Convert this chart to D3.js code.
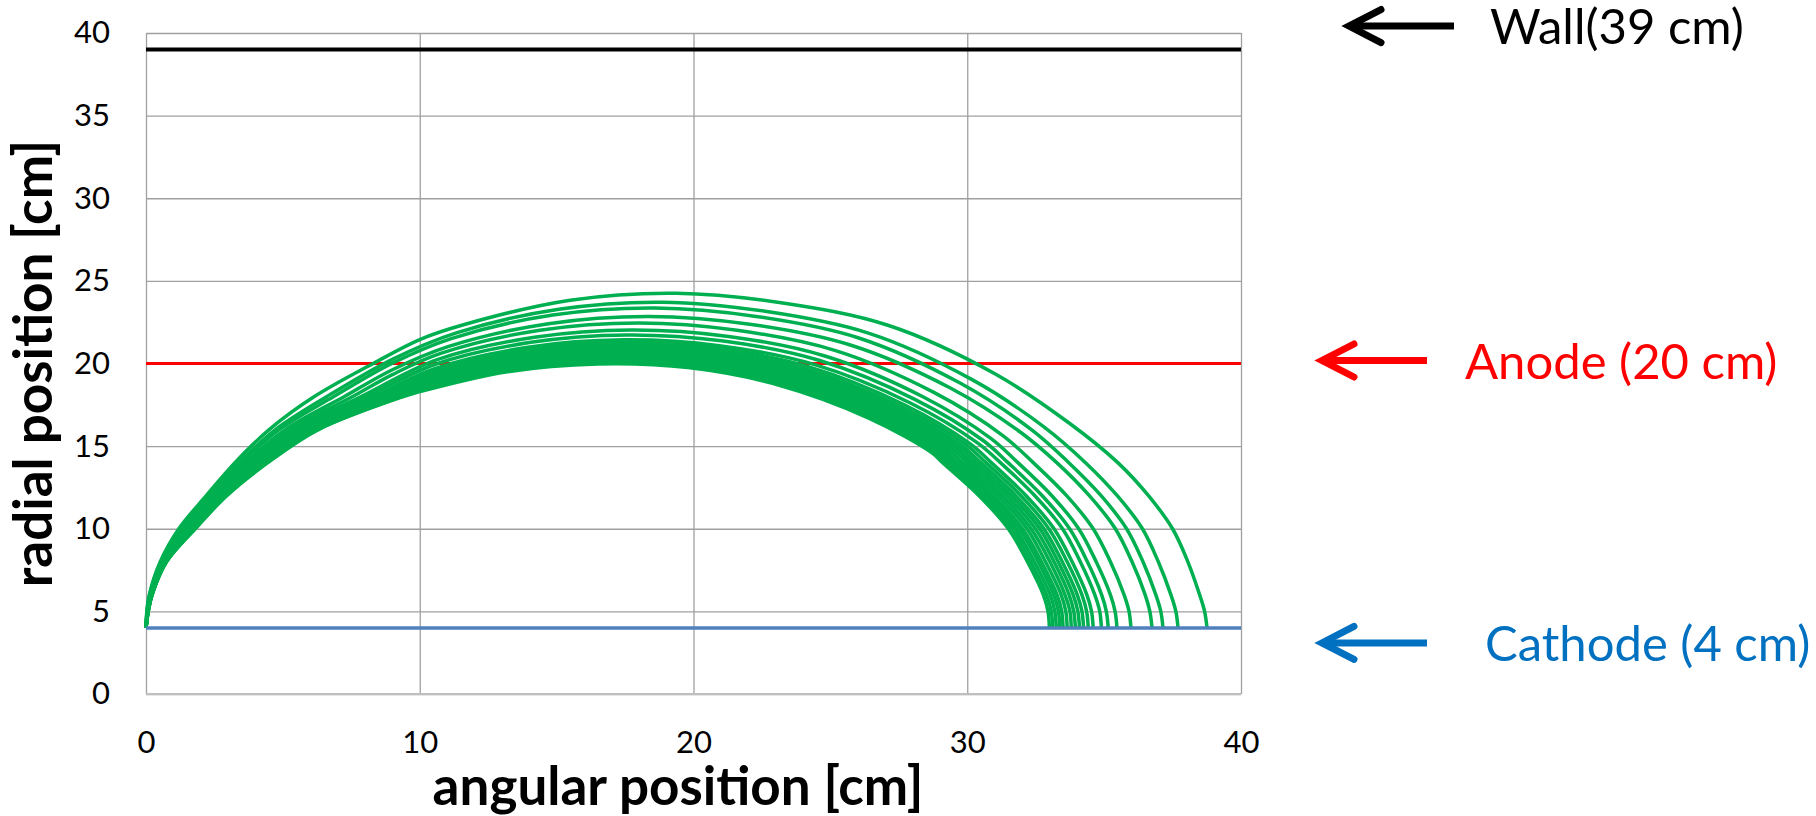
<!DOCTYPE html>
<html lang="en">
  <head>
    <meta charset="utf-8">
    <title>Electron trajectories</title>
    <script src="https://cdnjs.cloudflare.com/ajax/libs/d3/7.8.5/d3.min.js"></script>
    <style>
      body { margin: 0; background: #fff; }
      svg { display: block; font-family: Lato, "Open Sans", sans-serif; }
      .tick text { font-family: Lato, "Open Sans", sans-serif; font-size: 31px; fill: #000; }
      .grid line { stroke: #a0a0a0; stroke-width: 1.3; }
      .grid path { display: none; }
      .title { font-size: 53px; font-weight: bold; fill: #000; }
      .note { font-size: 49px; }
      .traj { fill: none; stroke: #00b050; stroke-width: 3.5; }
    </style>
  </head>
  <body>
    <svg width="1816" height="816"></svg>
    <script>
    // axis ticks
    var xTicks = [0, 10, 20, 30, 40];
    var yTicks = [0, 5, 10, 15, 20, 25, 30, 35, 40];

    // electrode positions [cm] and their labels
    var refValues = [39, 20, 4];
    var refLabels = ["Wall(39 cm)", "Anode (20 cm)", "Cathode (4 cm)"];

    // trajectories, [angular, radial] in cm
    var trajectories = [
      [[0,4],[0.08,5],[0.22,6],[0.75,8],[1.8,10],[2.95,12],[4.45,14],[6.3,16],[9.4,18],[9.9,18.25],[13.2,19.5],[16.5,19.97],[19.8,19.75],[23.1,18.7],[26.4,16.7],[28.71,14.6],[29.1,14],[30.43,12],[31.5,10],[32.2,8],[32.78,6],[32.95,5],[33.0,4]],
      [[0,4],[0.08,5],[0.22,6],[0.74,8],[1.79,10],[2.93,12],[4.42,14],[6.26,16],[9.33,18],[9.94,18.34],[13.25,19.6],[16.56,20.07],[19.87,19.84],[23.18,18.78],[26.5,16.76],[28.81,14.64],[29.23,14],[30.56,12],[31.63,10],[32.32,8],[32.9,6],[33.07,5],[33.12,4]],
      [[0,4],[0.08,5],[0.22,6],[0.74,8],[1.77,10],[2.92,12],[4.39,14],[6.22,16],[9.25,18],[9.98,18.44],[13.3,19.7],[16.63,20.17],[19.95,19.93],[23.28,18.87],[26.6,16.83],[28.93,14.69],[29.38,14],[30.7,12],[31.76,10],[32.45,8],[33.03,6],[33.2,5],[33.25,4]],
      [[0,4],[0.08,5],[0.21,6],[0.73,8],[1.76,10],[2.9,12],[4.36,14],[6.17,16],[9.17,18],[10.01,18.55],[13.35,19.81],[16.69,20.28],[20.03,20.03],[23.37,18.96],[26.7,16.89],[29.04,14.73],[29.52,14],[30.84,12],[31.9,10],[32.59,8],[33.16,6],[33.33,5],[33.38,4]],
      [[0,4],[0.08,5],[0.21,6],[0.73,8],[1.74,10],[2.88,12],[4.33,14],[6.13,16],[9.09,18],[10.05,18.65],[13.4,19.92],[16.75,20.38],[20.1,20.13],[23.45,19.05],[26.8,16.96],[29.15,14.77],[29.66,14],[30.97,12],[32.02,10],[32.71,8],[33.28,6],[33.45,5],[33.5,4]],
      [[0,4],[0.07,5],[0.21,6],[0.72,8],[1.73,10],[2.86,12],[4.3,14],[6.08,16],[9.0,18],[10.1,18.76],[13.46,20.04],[16.83,20.5],[20.19,20.24],[23.56,19.15],[26.92,17.03],[29.28,14.82],[29.82,14],[31.13,12],[32.18,10],[32.86,8],[33.43,6],[33.6,5],[33.65,4]],
      [[0,4],[0.07,5],[0.2,6],[0.71,8],[1.71,10],[2.84,12],[4.27,14],[6.02,16],[8.91,18],[10.14,18.88],[13.52,20.16],[16.9,20.63],[20.28,20.35],[23.66,19.25],[27.04,17.11],[29.41,14.88],[29.99,14],[31.29,12],[32.33,10],[33.02,8],[33.57,6],[33.75,5],[33.8,4]],
      [[0,4],[0.07,5],[0.2,6],[0.71,8],[1.69,10],[2.82,12],[4.23,14],[5.98,16],[8.82,18],[10.19,18.99],[13.58,20.28],[16.98,20.74],[20.37,20.45],[23.77,19.35],[27.16,17.18],[29.54,14.92],[30.16,14],[31.45,12],[32.49,10],[33.17,8],[33.72,6],[33.89,5],[33.95,4]],
      [[0,4],[0.07,5],[0.2,6],[0.7,8],[1.67,10],[2.79,12],[4.2,14],[5.92,16],[8.73,18],[10.23,19.11],[13.64,20.41],[17.05,20.87],[20.46,20.57],[23.87,19.46],[27.28,17.26],[29.67,14.98],[30.32,14],[31.61,12],[32.65,10],[33.32,8],[33.87,6],[34.04,5],[34.1,4]],
      [[0,4],[0.07,5],[0.2,6],[0.7,8],[1.66,10],[2.77,12],[4.16,14],[5.87,16],[8.63,18],[10.28,19.24],[13.7,20.54],[17.13,21.0],[20.55,20.69],[23.98,19.56],[27.4,17.34],[29.8,15.03],[30.49,14],[31.77,12],[32.8,10],[33.47,8],[34.02,6],[34.19,5],[34.25,4]],
      [[0,4],[0.07,5],[0.19,6],[0.69,8],[1.64,10],[2.75,12],[4.13,14],[5.81,16],[8.54,18],[10.33,19.36],[13.77,20.67],[17.21,21.13],[20.65,20.81],[24.09,19.67],[27.54,17.42],[29.95,15.09],[30.68,14],[31.96,12],[32.98,10],[33.65,8],[34.19,6],[34.36,5],[34.42,4]],
      [[0,4],[0.06,5],[0.19,6],[0.68,8],[1.62,10],[2.72,12],[4.08,14],[5.75,16],[8.42,18],[10.38,19.51],[13.84,20.83],[17.3,21.28],[20.76,20.95],[24.22,19.8],[27.68,17.52],[30.1,15.15],[30.88,14],[32.15,12],[33.17,10],[33.83,8],[34.37,6],[34.54,5],[34.6,4]],
      [[0,4],[0.06,5],[0.19,6],[0.67,8],[1.6,10],[2.69,12],[4.04,14],[5.69,16],[8.31,18],[10.47,19.65],[13.96,20.98],[17.45,21.43],[20.94,21.08],[24.43,19.93],[27.92,17.61],[30.36,15.21],[31.21,14],[32.47,12],[33.48,10],[34.13,8],[34.66,6],[34.84,5],[34.9,4]],
      [[0,4],[0.06,5],[0.18,6],[0.66,8],[1.55,10],[2.64,12],[3.96,14],[5.56,16],[8.08,18],[10.55,19.94],[14.06,21.28],[17.58,21.73],[21.09,21.36],[24.61,20.18],[28.12,17.8],[30.58,15.34],[31.49,14],[32.74,12],[33.74,10],[34.39,8],[34.91,6],[35.08,5],[35.15,4]],
      [[0,4],[0.06,5],[0.17,6],[0.64,8],[1.51,10],[2.59,12],[3.87,14],[5.43,16],[7.86,18],[10.64,20.23],[14.19,21.59],[17.74,22.03],[21.28,21.64],[24.83,20.44],[28.38,17.99],[30.86,15.47],[31.85,14],[33.09,12],[34.07,10],[34.71,8],[35.23,6],[35.4,5],[35.47,4]],
      [[0,4],[0.05,5],[0.16,6],[0.62,8],[1.45,10],[2.52,12],[3.76,14],[5.26,16],[7.55,18],[9.0,19.33],[10.79,20.63],[14.39,22.01],[17.99,22.45],[21.59,22.01],[25.19,20.78],[28.78,18.25],[31.3,15.64],[32.41,14],[33.63,12],[34.6,10],[35.23,8],[35.73,6],[35.91,5],[35.98,4]],
      [[0,4],[0.05,5],[0.15,6],[0.6,8],[1.4,10],[2.45,12],[3.64,14],[5.09,16],[7.25,18],[9.0,19.62],[11.03,21.02],[14.7,22.41],[18.38,22.85],[22.05,22.38],[25.73,21.12],[29.4,18.5],[31.97,15.81],[33.27,14],[34.46,12],[35.41,10],[36.02,8],[36.5,6],[36.67,5],[36.75,4]],
      [[0,4],[0.04,5],[0.14,6],[0.57,8],[1.32,10],[2.36,12],[3.5,14],[4.87,16],[6.86,18],[9.0,20.02],[11.15,21.51],[14.86,22.93],[18.58,23.36],[22.29,22.85],[26.01,21.56],[29.72,18.83],[32.32,16.03],[33.71,14],[34.89,12],[35.82,10],[36.42,8],[36.89,6],[37.07,5],[37.15,4]],
      [[0,4],[0.04,5],[0.13,6],[0.55,8],[1.28,10],[2.3,12],[3.4,14],[4.73,16],[6.61,18],[9.0,20.25],[11.31,21.84],[15.08,23.28],[18.85,23.71],[22.62,23.16],[26.39,21.84],[30.16,19.04],[32.8,16.17],[34.32,14],[35.48,12],[36.4,10],[36.98,8],[37.44,6],[37.62,5],[37.7,4]],
      [[0,4],[0.03,5],[0.12,6],[0.52,8],[1.2,10],[2.2,12],[3.25,14],[4.5,16],[6.15,18],[8.3,20.0],[10.0,21.45],[11.63,22.36],[15.5,23.83],[19.38,24.25],[23.26,23.66],[27.13,22.3],[31.01,19.38],[33.72,16.4],[35.5,14],[36.62,12],[37.5,10],[38.06,8],[38.49,6],[38.67,5],[38.76,4]]
    ];

    var svg = d3.select("svg"),
        margin = {top: 33, right: 575, bottom: 122, left: 146},
        width = +svg.attr("width") - margin.left - margin.right,
        height = +svg.attr("height") - margin.top - margin.bottom;

    var x = d3.scaleLinear().domain([0, 40]).range([0, width]),
        y = d3.scaleLinear().domain([0, 40]).range([height, 0]);

    var g = svg.append("g")
        .attr("transform", "translate(" + margin.left + "," + margin.top + ")");

    // gridlines + tick labels
    g.append("g")
        .attr("class", "grid")
        .call(d3.axisLeft(y).tickValues(yTicks).tickSize(-width).tickPadding(36));

    g.append("g")
        .attr("class", "grid")
        .attr("transform", "translate(0," + height + ")")
        .call(d3.axisBottom(x).tickValues(xTicks).tickSize(-height).tickPadding(37));

    // bottom axis line, a bit lighter and heavier like excel
    g.append("line")
        .attr("x1", 0).attr("x2", width)
        .attr("y1", height).attr("y2", height)
        .attr("stroke", "#bfbfbf").attr("stroke-width", 2);

    var lineColors = ["#000000", "#ff0000", "#4f81bd"],
        lineWidths = [4, 3, 3.5],
        labelColors = ["#000000", "#ff0000", "#0070c0"];

    function refLine(i) {
      g.append("line")
          .attr("x1", x(0)).attr("x2", x(40))
          .attr("y1", y(refValues[i])).attr("y2", y(refValues[i]))
          .attr("stroke", lineColors[i])
          .attr("stroke-width", lineWidths[i]);
    }

    refLine(0);
    refLine(1);

    var line = d3.line()
        .x(function(d) { return x(d[0]); })
        .y(function(d) { return y(d[1]); })
        .curve(d3.curveCatmullRom.alpha(0.5));

    g.selectAll(".traj")
        .data(trajectories)
        .enter().append("path")
          .attr("class", "traj")
          .attr("d", line);

    refLine(2);

    // arrows + labels on the right
    var arrowDy = [-23.5, -3, 15],
        tipX = [1349, 1322, 1322],
        tailX = [1454, 1427, 1427],
        textX = [1490, 1465, 1485];

    refValues.forEach(function(v, i) {
      var ay = margin.top + y(v) + arrowDy[i];
      svg.append("line")
          .attr("x1", tipX[i] + 4).attr("x2", tailX[i])
          .attr("y1", ay).attr("y2", ay)
          .attr("stroke", labelColors[i])
          .attr("stroke-width", 7);
      svg.append("path")
          .attr("d", "M" + (tipX[i] + 32) + "," + (ay - 16.5) + "L" + tipX[i] + "," + ay + "L" + (tipX[i] + 32) + "," + (ay + 16.5))
          .attr("fill", "none")
          .attr("stroke", labelColors[i])
          .attr("stroke-width", 7)
          .attr("stroke-linecap", "round")
          .attr("stroke-linejoin", "miter");
      svg.append("text")
          .attr("class", "note")
          .attr("x", textX[i])
          .attr("y", ay + 18)
          .attr("fill", labelColors[i])
          .text(refLabels[i]);
    });

    // axis titles
    svg.append("text")
        .attr("class", "title")
        .attr("x", 678)
        .attr("y", 805)
        .style("text-anchor", "middle")
        .text("angular position [cm]");

    svg.append("text")
        .attr("class", "title")
        .attr("transform", "translate(52," + (margin.top + height / 2) + ") rotate(-90)")
        .style("text-anchor", "middle")
        .text("radial position [cm]");
    </script>
  </body>
</html>
